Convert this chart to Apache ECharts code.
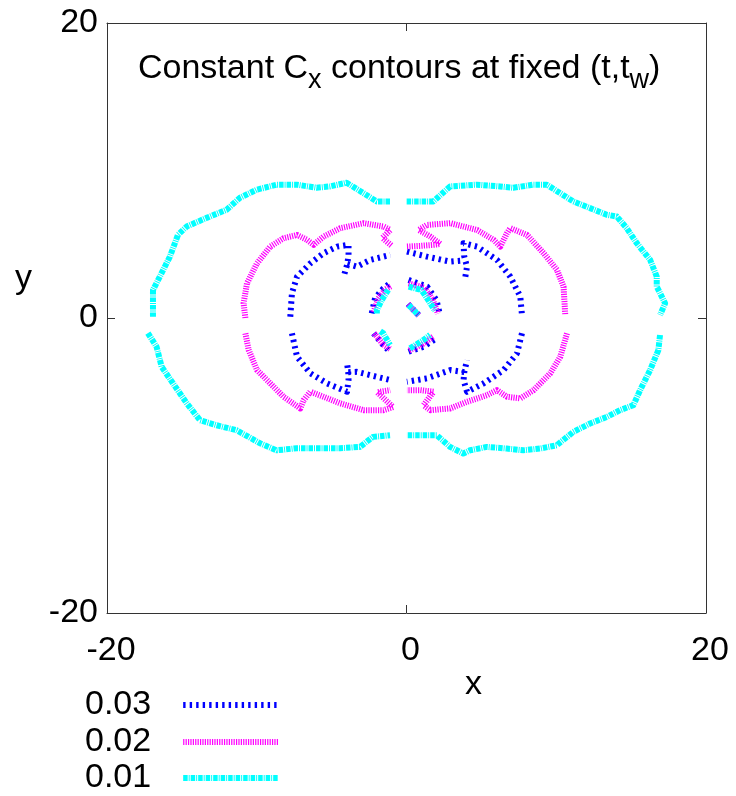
<!DOCTYPE html>
<html>
<head>
<meta charset="utf-8">
<script src="https://cdn.jsdelivr.net/npm/echarts@6/dist/echarts.min.js"></script>
<style>html,body{margin:0;padding:0;background:#fff}#c{width:736px;height:796px}</style>
</head>
<body>
<div id="c"></div>
<script>
// ---- tick labels / levels ----
const xTicks = [-20, 0, 20];
const yTicks = [-20, 0, 20];
const levelNames = ['0.03', '0.02', '0.01'];

// ---- contour level 0.03 (blue) segments ----
const blueUL = [[-7.76,0.09],[-7.65,1.68],[-7.31,2.80],[-6.42,3.71],[-5.54,4.39],[-4.64,4.84],[-3.87,4.96],[-3.87,4.28],[-3.95,3.67],[-4.20,2.80]];
const blueULb = [[-3.95,3.67],[-3.31,3.48],[-2.42,3.94],[-1.08,4.28]];
const blueLL = [[-7.65,-1.04],[-7.31,-2.63],[-6.42,-3.75],[-5.31,-4.43],[-3.97,-5.00],[-3.87,-4.21],[-3.89,-3.67],[-3.97,-3.08]];
const blueLLb = [[-3.89,-3.67],[-3.31,-3.65],[-1.97,-3.99],[-1.08,-4.21]];
const blueUR = [[0.03,4.50],[1.37,4.16],[2.92,3.82],[3.85,3.90]];
const blueURb = [[3.93,2.80],[4.04,3.48],[3.85,4.20],[3.81,5.07],[4.71,4.84],[6.04,3.94],[6.93,2.80],[7.60,1.45],[7.71,0.20]];
const blueLR = [[7.71,-1.04],[7.38,-2.40],[6.48,-3.53],[5.15,-4.43],[4.04,-5.00],[3.81,-4.21],[3.86,-3.67],[4.04,-2.85]];
const blueLRb = [[3.86,-3.67],[2.92,-3.53],[1.37,-4.09],[0.03,-4.32]];
const blueIn1 = [[-2.32,0.32],[-2.10,1.34],[-1.55,2.00],[-1.10,2.36]];
const blueIn2 = [[0.14,2.58],[1.37,2.13],[2.00,1.22],[2.24,0.20]];
const blueIn3 = [[-2.20,-1.04],[-1.55,-1.83],[-1.10,-2.29]];
const blueIn4 = [[0.14,-2.29],[1.12,-1.95],[2.00,-1.38]];
const blueIn5 = [[0.10,0.95],[0.85,0.15]];

// ---- contour level 0.02 (magenta) segments ----
const magUL = [[-10.76,0.00],[-10.88,1.00],[-10.65,2.36],[-9.98,3.71],[-9.10,4.84],[-8.21,5.41],[-7.31,5.63],[-6.64,5.30],[-6.20,4.96],[-5.54,5.52],[-4.42,6.09],[-2.86,6.43],[-1.53,6.20],[-1.08,5.97],[-1.61,5.43],[-0.98,4.89]];
const magLL = [[-10.76,-1.04],[-10.54,-2.17],[-9.98,-3.53],[-9.10,-4.43],[-8.21,-5.34],[-7.09,-6.13],[-6.87,-5.57],[-6.42,-5.00],[-5.54,-5.34],[-4.42,-5.79],[-2.86,-6.25],[-1.53,-6.25],[-0.89,-6.04],[-1.96,-5.03],[-1.09,-4.89]];
const magUR = [[0.03,4.84],[0.92,4.89],[1.81,4.96],[2.26,5.02],[1.59,5.52],[0.81,5.97],[1.37,6.31],[2.92,6.43],[4.71,5.97],[5.82,5.30],[6.26,4.84],[6.71,5.75],[6.93,6.09],[8.05,5.63],[9.16,4.39],[10.05,3.26],[10.49,2.12],[10.60,0.20]];
const magLR = [[10.72,-1.04],[10.27,-2.63],[9.60,-3.75],[8.49,-4.89],[7.60,-5.45],[6.71,-5.34],[6.04,-4.89],[5.38,-5.23],[4.04,-5.68],[2.92,-6.13],[1.59,-6.25],[1.14,-5.91],[1.81,-5.00],[0.92,-4.89],[0.03,-4.89]];
const magIn1 = [[-2.20,0.40],[-1.90,1.30],[-1.40,1.95],[-1.05,2.15]];
const magIn2 = [[0.14,2.35],[1.20,2.05],[1.75,1.25],[2.10,0.30]];
const magIn3 = [[-2.15,-1.04],[-1.55,-1.80],[-1.10,-2.10]];
const magIn4 = [[0.18,-2.20],[1.10,-1.75],[1.80,-1.25]];
const magIn5 = [[0.12,0.92],[0.82,0.18]];

// ---- contour level 0.01 (cyan) segments ----
const cyanUL = [[-1.10,7.90],[-1.99,7.90],[-2.91,8.49],[-4.00,9.17],[-5.11,8.92],[-6.00,8.83],[-7.33,9.04],[-8.67,9.04],[-10.00,8.70],[-11.12,8.15],[-12.01,7.34],[-13.35,6.79],[-14.68,6.20],[-15.26,5.64],[-15.80,4.16],[-16.47,2.81],[-16.93,1.90],[-16.93,0.09]];
const cyanLL = [[-17.27,-1.02],[-16.69,-1.95],[-16.35,-3.31],[-15.60,-4.42],[-14.68,-5.77],[-13.79,-6.93],[-12.68,-7.27],[-11.34,-7.61],[-9.79,-8.49],[-8.67,-8.97],[-7.33,-8.83],[-6.00,-8.83],[-4.44,-8.83],[-3.11,-8.74],[-2.24,-8.06],[-1.10,-7.95]];
const cyanUR = [[0.01,7.90],[1.79,7.90],[2.91,8.92],[4.69,9.04],[6.25,8.92],[7.13,8.83],[8.47,9.04],[9.37,9.04],[10.25,8.47],[11.14,7.90],[12.26,7.45],[13.37,7.00],[14.04,6.88],[14.71,6.09],[15.38,5.07],[16.27,3.94],[16.71,2.81],[16.71,2.13],[17.27,1.00],[16.93,0.20]];
const cyanLR = [[16.93,-1.15],[16.82,-2.17],[16.27,-3.53],[15.60,-4.89],[15.15,-5.91],[14.26,-6.25],[13.37,-6.71],[12.26,-7.15],[11.14,-7.72],[10.03,-8.63],[8.92,-8.85],[7.80,-8.97],[6.69,-8.85],[5.36,-8.74],[4.24,-8.97],[3.79,-9.19],[2.91,-8.74],[2.02,-7.95],[0.90,-7.95],[0.01,-7.95]];
const cyanIn1 = [[-1.98,0.30],[-1.98,0.54],[-1.65,1.22],[-1.22,1.90]];
const cyanIn2 = [[0.14,2.13],[1.00,1.90],[1.45,1.22],[1.90,0.50]];
const cyanIn3 = [[-1.75,-0.90],[-1.55,-1.04],[-1.10,-1.83]];
const cyanIn4 = [[0.23,-2.06],[1.12,-1.50],[1.57,-1.15]];
const cyanIn5 = [[0.14,0.88],[0.80,0.20]];

const FONT = "'Liberation Sans', Arial, Helvetica, sans-serif";

const levelDefs = [
  { name: levelNames[0], color: '#0000ff', dash: [2.4, 4.1], width: 6,
    segs: [blueUL, blueULb, blueLL, blueLLb, blueUR, blueURb, blueLR, blueLRb, blueIn1, blueIn2, blueIn3, blueIn4, blueIn5] },
  { name: levelNames[1], color: '#ff00ff', dash: [1.2, 1.2], width: 6,
    segs: [magUL, magLL, magUR, magLR, magIn1, magIn2, magIn3, magIn4, magIn5] },
  { name: levelNames[2], color: '#00ffff', dash: [4.5, 1, 1, 1], width: 6,
    segs: [cyanUL, cyanLL, cyanUR, cyanLR, cyanIn1, cyanIn2, cyanIn3, cyanIn4, cyanIn5] }
];

const series = [];
levelDefs.forEach(l => {
  l.segs.forEach(seg => {
    series.push({
      type: 'line', name: l.name, data: seg, symbol: 'none', smooth: false,
      xAxisIndex: 0, yAxisIndex: 0, animation: false, silent: true,
      lineStyle: { color: l.color, width: l.width, type: l.dash, cap: 'butt', join: 'round' },
      itemStyle: { color: l.color }
    });
  });
});

const axisCommon = {
  type: 'value', min: -20, max: 20, interval: 20,
  axisLine: { show: true, onZero: false, lineStyle: { color: '#333', width: 1 } },
  axisTick: { show: true, inside: true, length: 8, lineStyle: { color: '#333', width: 1 } },
  splitLine: { show: false }
};

const legendTops = [688, 725, 761];
const legends = levelNames.map((nm, i) => ({
  orient: 'horizontal', left: 85, top: legendTops[i], align: 'right', padding: 0,
  itemWidth: 95, itemHeight: 6,
  data: [nm],
  itemStyle: { opacity: 0 },
  lineStyle: { width: 6 },
  textStyle: { fontFamily: FONT, fontSize: 34, color: '#000', padding: [0, 27, 0, 0] }
}));

const chart = echarts.init(document.getElementById('c'), null, { renderer: 'canvas' });
chart.setOption({
  animation: false,
  backgroundColor: '#fff',
  grid: { left: 107, right: 30, top: 23, bottom: 183, containLabel: false },
  title: {
    left: 133, top: 47,
    text: '{n|Constant C}{s|x}{n| contours at fixed (t,t}{s|w}{n|)}',
    textStyle: {
      fontFamily: FONT, fontWeight: 'normal', color: '#000',
      rich: {
        n: { fontFamily: FONT, fontSize: 34, color: '#000', padding: [0, 0, 8, 0], verticalAlign: 'bottom' },
        s: { fontFamily: FONT, fontSize: 27, color: '#000', verticalAlign: 'bottom' }
      }
    }
  },
  legend: legends,
  xAxis: [
    Object.assign({}, axisCommon, { position: 'bottom',
      axisLabel: { show: true, fontFamily: FONT, fontSize: 34, color: '#000', margin: 21, padding: [0, 0, 0, 8],
        showMinLabel: true, showMaxLabel: true, formatter: v => xTicks.includes(v) ? String(v) : '' } }),
    Object.assign({}, axisCommon, { position: 'top', axisLabel: { show: false } })
  ],
  yAxis: [
    Object.assign({}, axisCommon, { position: 'left',
      axisLabel: { show: true, fontFamily: FONT, fontSize: 34, color: '#000', margin: 9,
        showMinLabel: true, showMaxLabel: true, formatter: v => yTicks.includes(v) ? String(v) : '' } }),
    Object.assign({}, axisCommon, { position: 'right', axisLabel: { show: false } })
  ],
  graphic: [
    { type: 'text', left: 465, top: 668, style: { text: 'x', font: '34px ' + FONT, fill: '#000' } },
    { type: 'text', left: 15, top: 262, style: { text: 'y', font: '34px ' + FONT, fill: '#000' } }
  ],
  series: series
});
</script>
</body>
</html>
